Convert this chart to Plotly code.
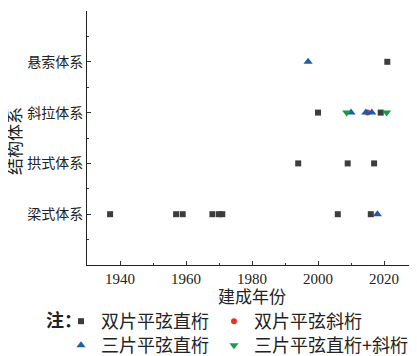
import plotly.graph_objects as go

categories = ["梁式体系", "拱式体系", "斜拉体系", "悬索体系"]

# 双片平弦直桁 (square)
sq_years = [1937, 1957, 1959, 1968, 1970, 1971, 2006, 2016, 1994, 2009, 2017, 2000, 2019, 2021]
sq_cat   = [1, 1, 1, 1, 1, 1, 1, 1, 2, 2, 2, 3, 3, 4]
# 双片平弦斜桁 (circle)
ci_years = [2015]
ci_cat   = [3]
# 三片平弦直桁 (triangle-up)
tu_years = [1997, 2010, 2014.5, 2016.3, 2018]
tu_cat   = [4, 3, 3, 3, 1]
# 三片平弦直桁+斜桁 (triangle-down)
td_years = [2008.7, 2020.8]
td_cat   = [3, 3]

names = ["双片平弦直桁", "双片平弦斜桁", "三片平弦直桁", "三片平弦直桁+斜桁"]

CJK = "Noto Sans CJK SC"
SERIF = "Liberation Serif, Noto Sans CJK SC"

# page has an 8px body margin: figure is sized/offset to compensate
OFF = 8
W, H = 417 - OFF, 356 - OFF
L, R, T = 87 - OFF, 0, 11 - OFF
B = H - (265 - OFF)
PW, PH = W - L - R, H - T - B

def px_x(xpage):
    return (xpage - OFF - L) / PW

def px_y(ypage):
    return (H - B - (ypage - OFF)) / PH

fig = go.Figure()
fig.add_trace(go.Scatter(x=sq_years, y=sq_cat, mode="markers", name=names[0], legend="legend",
                         marker=dict(symbol="square", size=6, color="#3d3d3d")))
fig.add_trace(go.Scatter(x=ci_years, y=ci_cat, mode="markers", name=names[1], legend="legend",
                         marker=dict(symbol="circle", size=6, color="#e8302a")))
fig.add_trace(go.Scatter(x=tu_years, y=tu_cat, mode="markers", name=names[2], legend="legend2",
                         marker=dict(symbol="triangle-up", size=8, color="#1f5cab")))
fig.add_trace(go.Scatter(x=td_years, y=td_cat, mode="markers", name=names[3], legend="legend2",
                         marker=dict(symbol="triangle-down", size=8, color="#189a4a")))

leg_common = dict(orientation="h", xanchor="left", yanchor="top",
                  font=dict(family=CJK, size=18, color="#222"),
                  itemwidth=30, tracegroupgap=0, bgcolor="rgba(0,0,0,0)")

fig.update_layout(
    width=W, height=H,
    margin=dict(l=L, r=R, t=T, b=B, autoexpand=False),
    paper_bgcolor="white", plot_bgcolor="white",
    showlegend=True,
    legend=dict(x=px_x(61), y=px_y(303), **leg_common),
    legend2=dict(x=px_x(61), y=px_y(327), **leg_common),
    annotations=[
        dict(text="<b>注：</b>", x=px_x(44), y=px_y(319), xref="paper", yref="paper",
             showarrow=False, font=dict(family=CJK, size=18, color="#222"),
             xanchor="left", yanchor="middle"),
        dict(text="结构体系", x=px_x(13), y=px_y(141), xref="paper", yref="paper",
             showarrow=False, textangle=-90, font=dict(family=CJK, size=17, color="#222"),
             xanchor="center", yanchor="middle"),
        dict(text="建成年份", x=px_x(252), y=px_y(295), xref="paper", yref="paper",
             showarrow=False, font=dict(family=CJK, size=17, color="#222"),
             xanchor="center", yanchor="middle"),
    ],
)

fig.update_xaxes(
    range=[1930, 2030], tick0=1940, dtick=20, automargin=False,
    ticks="inside", ticklen=4, tickcolor="#333",
    showline=True, linecolor="#222", linewidth=1,
    showgrid=False, zeroline=False,
    minor=dict(dtick=10, ticks="inside", ticklen=2, tickcolor="#333", showgrid=False),
    tickfont=dict(family=SERIF, size=15, color="#222"),
)
fig.update_yaxes(
    range=[0, 5], tickvals=[0, 1, 2, 3, 4, 5], automargin=False,
    ticktext=[""] + categories + [""],
    ticks="inside", ticklen=4, tickcolor="#333",
    showline=True, linecolor="#222", linewidth=1,
    showgrid=False, zeroline=False,
    minor=dict(dtick=0.5, ticks="inside", ticklen=2, tickcolor="#333", showgrid=False),
    tickfont=dict(family=SERIF, size=14, color="#222"),
)

fig.write_html("out.html")
